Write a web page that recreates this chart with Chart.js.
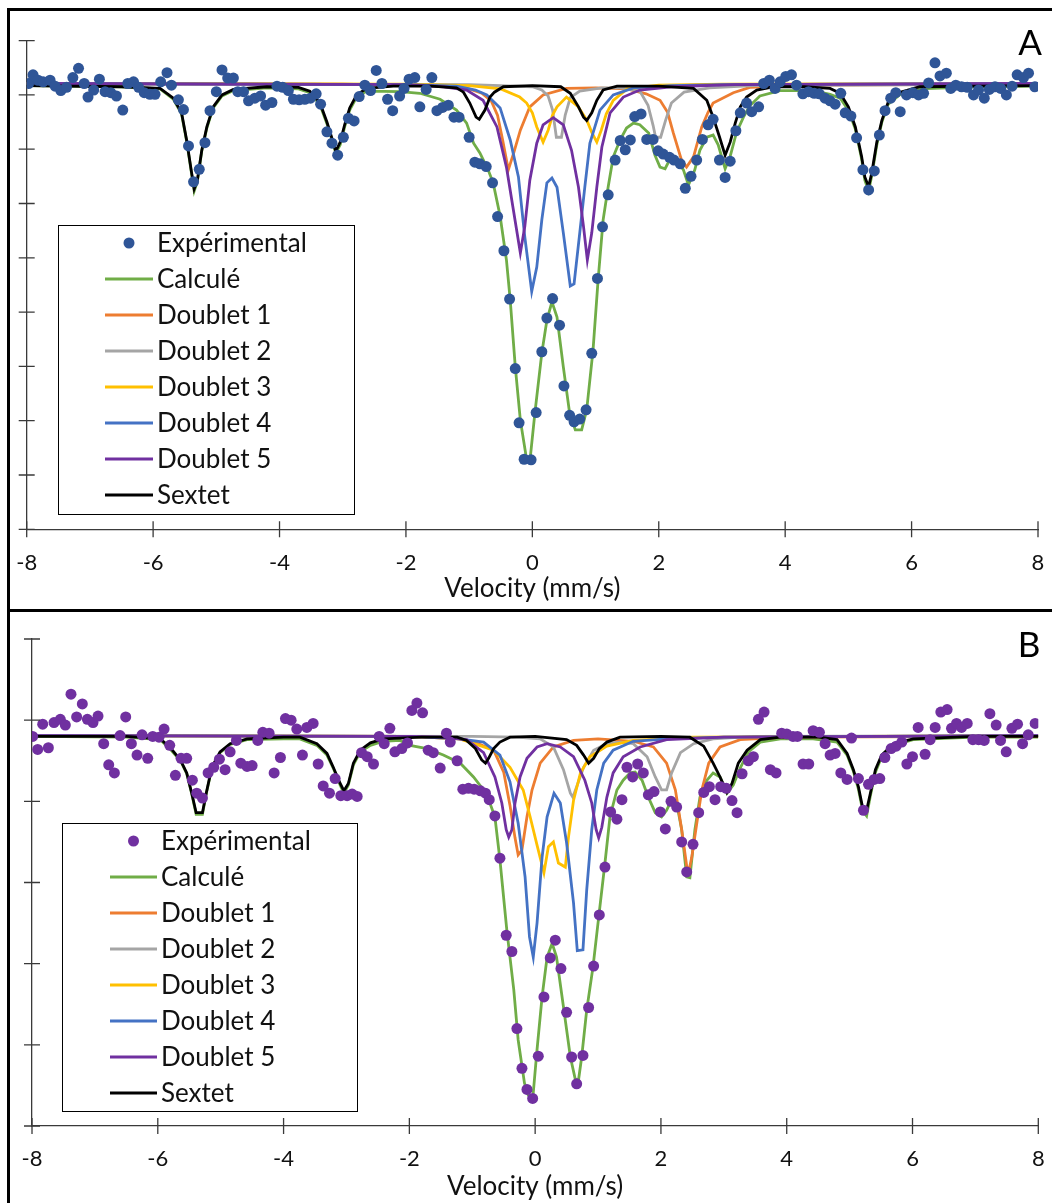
<!DOCTYPE html>
<html><head><meta charset="utf-8">
<script src="https://cdn.jsdelivr.net/npm/chart.js@4.4.1/dist/chart.umd.min.js"></script>
<style>
html,body{margin:0;padding:0;background:#fff;}
body{width:1052px;height:1203px;position:relative;overflow:hidden;}
.wrap{position:absolute;left:0;}
.bl{position:absolute;background:#000;z-index:5;}
</style></head>
<body>
<div class="wrap" style="top:0;width:1052px;height:608px;"><canvas id="ca" width="1052" height="608"></canvas></div>
<div class="wrap" style="top:612px;width:1052px;height:591px;"><canvas id="cb" width="1052" height="591"></canvas></div>
<div class="bl" style="left:7px;top:8px;width:3px;height:1195px;"></div>
<div class="bl" style="left:7px;top:8px;width:1045px;height:3px;"></div>
<div class="bl" style="left:7px;top:609px;width:1045px;height:3px;"></div>
<script>
// ---------- Panel A data ----------
const A_expX = [-7.97,-7.90,-7.82,-7.74,-7.63,-7.55,-7.46,-7.37,-7.27,-7.18,-7.09,-7.03,-6.94,-6.85,-6.76,-6.67,-6.58,-6.48,-6.40,-6.31,-6.23,-6.14,-6.05,-5.97,-5.88,-5.78,-5.71,-5.60,-5.52,-5.44,-5.36,-5.27,-5.18,-5.10,-5.00,-4.91,-4.82,-4.73,-4.66,-4.57,-4.49,-4.39,-4.30,-4.22,-4.12,-4.04,-3.95,-3.86,-3.78,-3.69,-3.60,-3.51,-3.42,-3.35,-3.25,-3.17,-3.08,-2.99,-2.91,-2.82,-2.74,-2.65,-2.56,-2.47,-2.38,-2.29,-2.21,-2.10,-2.03,-1.95,-1.86,-1.78,-1.68,-1.59,-1.51,-1.42,-1.33,-1.24,-1.16,-1.00,-0.91,-0.83,-0.73,-0.63,-0.55,-0.45,-0.36,-0.27,-0.21,-0.13,-0.02,0.06,0.15,0.23,0.32,0.43,0.50,0.59,0.66,0.75,0.85,0.94,1.03,1.11,1.20,1.31,1.39,1.47,1.55,1.62,1.72,1.81,1.91,1.99,2.07,2.17,2.24,2.34,2.42,2.51,2.60,2.69,2.78,2.86,2.96,3.05,3.13,3.22,3.29,3.39,3.47,3.58,3.66,3.75,3.84,3.92,4.01,4.10,4.18,4.28,4.37,4.46,4.54,4.63,4.71,4.79,4.88,4.95,5.04,5.13,5.23,5.32,5.41,5.49,5.58,5.67,5.75,5.82,5.92,6.02,6.11,6.19,6.27,6.37,6.45,6.55,6.62,6.70,6.79,6.88,6.98,7.06,7.15,7.23,7.32,7.41,7.50,7.59,7.67,7.77,7.85,7.95];
const A_expY = [8.21,8.37,8.27,8.24,8.27,8.16,8.08,8.14,8.32,8.49,8.21,7.96,8.09,8.29,8.06,8.04,7.98,7.72,8.21,8.24,8.14,8.04,8.01,8.01,8.24,8.41,8.18,7.91,7.73,7.06,6.40,6.63,7.12,7.71,8.06,8.46,8.31,8.31,8.06,8.06,7.89,7.94,7.98,7.81,7.86,8.16,8.14,8.08,7.92,7.91,7.92,7.94,8.02,7.83,7.32,7.11,6.89,7.22,7.57,7.52,7.97,8.18,8.08,8.45,8.21,7.92,7.71,7.98,8.12,8.29,8.32,7.78,8.10,8.32,7.71,7.77,7.81,7.59,7.59,7.22,6.76,6.73,6.68,6.38,5.76,5.13,4.24,2.96,1.96,1.29,1.28,2.15,3.27,3.89,4.25,3.76,2.64,2.10,1.98,2.03,2.20,3.24,4.62,5.57,6.16,6.80,7.16,6.99,7.17,7.60,7.65,7.18,7.18,6.97,6.91,6.85,6.80,6.73,6.28,6.50,6.80,7.18,7.45,7.55,6.80,6.48,6.78,7.34,7.67,7.85,7.69,7.78,8.21,8.27,8.12,8.24,8.34,8.37,8.18,8.02,8.06,8.03,8.02,7.94,7.89,7.83,8.03,7.67,7.61,7.21,6.62,6.25,6.60,7.26,7.71,7.94,8.04,7.69,8.00,8.04,8.00,8.03,8.22,8.59,8.35,8.40,8.12,8.18,8.15,8.14,8.00,8.09,7.94,8.10,8.15,8.12,8.00,8.16,8.37,8.32,8.40,8.15];

const A_calcX = [-8,-6.5,-5.89,-5.68,-5.55,-5.47,-5.39,-5.35,-5.30,-5.23,-5.15,-5.05,-4.91,-4.73,-4.2,-3.7,-3.52,-3.36,-3.25,-3.17,-3.11,-3.04,-2.97,-2.89,-2.78,-2.62,-2.09,-1.78,-1.46,-1.2,-1.04,-0.93,-0.83,-0.70,-0.62,-0.51,-0.41,-0.35,-0.27,-0.19,-0.09,-0.04,0.04,0.15,0.23,0.31,0.39,0.49,0.59,0.68,0.78,0.86,0.96,1.04,1.12,1.20,1.28,1.39,1.49,1.60,1.70,1.84,1.94,2.02,2.10,2.17,2.28,2.39,2.47,2.57,2.65,2.76,2.86,2.94,3.05,3.13,3.23,3.34,3.44,3.60,3.92,4.3,4.55,4.71,4.87,5.0,5.11,5.21,5.26,5.32,5.37,5.45,5.53,5.63,5.82,6.13,7,8];
const A_calcY = [8.17,8.15,8.11,7.92,7.65,7.15,6.54,6.23,6.40,6.97,7.39,7.76,7.98,8.08,8.13,8.11,8.04,7.82,7.47,7.17,6.93,7.08,7.41,7.72,7.96,8.07,8.06,8.03,7.92,7.72,7.48,7.11,6.93,6.62,6.38,5.77,4.96,4.22,2.99,2.01,1.28,1.24,2.14,3.25,3.85,4.19,3.91,2.99,2.14,1.83,1.83,2.20,3.30,4.59,5.70,6.31,6.86,7.17,7.39,7.48,7.45,7.30,6.89,6.67,6.64,6.80,6.80,6.62,6.34,6.62,6.98,7.22,7.26,7.08,6.64,6.87,7.31,7.59,7.80,7.98,8.08,8.08,8.05,8.01,7.94,7.72,7.37,6.82,6.43,6.23,6.51,7.08,7.50,7.83,8.01,8.11,8.15,8.16];

const A_d1X = [-8,-3,-1.5,-1.0,-0.8,-0.65,-0.55,-0.47,-0.38,-0.29,-0.19,-0.04,0.17,0.54,1.0,1.5,1.8,2.02,2.14,2.23,2.36,2.44,2.55,2.68,2.78,2.86,3.18,3.44,4.5,8];
const A_d1Y = [8.21,8.20,8.16,8.11,8.03,7.89,7.62,7.17,6.62,6.95,7.35,7.78,8.00,8.12,8.13,8.11,8.02,7.90,7.68,7.30,6.80,6.67,6.86,7.41,7.68,7.85,8.04,8.14,8.18,8.20];

const A_d2X = [-8,-1,0,0.15,0.25,0.32,0.38,0.46,0.52,0.6,0.75,1.1,1.4,1.7,1.83,1.91,1.95,2.03,2.11,2.2,2.4,2.8,3.5,8];
const A_d2Y = [8.21,8.19,8.15,8.09,7.98,7.72,7.22,7.22,7.63,7.95,8.07,8.13,8.13,8.07,7.81,7.44,7.22,7.22,7.54,7.85,8.05,8.13,8.17,8.20];

const A_d3X = [-8,-2,-1,-0.5,-0.2,-0.09,0.0,0.07,0.17,0.25,0.32,0.39,0.54,0.72,0.86,0.94,1.02,1.09,1.17,1.28,1.5,2.0,3,8];
const A_d3Y = [8.21,8.20,8.17,8.11,7.96,7.85,7.67,7.41,7.13,7.35,7.63,7.78,7.96,7.79,7.54,7.31,7.13,7.35,7.65,7.90,8.11,8.18,8.20,8.21];

const A_d4X = [-8,-2,-1.2,-0.9,-0.72,-0.51,-0.35,-0.22,-0.12,-0.01,0.07,0.15,0.23,0.31,0.39,0.49,0.60,0.66,0.75,0.83,0.91,1.07,1.28,1.6,2.2,3,8];
const A_d4Y = [8.21,8.19,8.16,8.09,8.00,7.76,7.17,6.49,5.39,4.38,4.83,5.70,6.38,6.47,6.30,5.46,4.48,4.52,5.46,6.30,7.11,7.72,8.00,8.13,8.17,8.19,8.21];

const A_d5X = [-8,-2,-1.4,-1.04,-0.78,-0.56,-0.41,-0.3,-0.19,-0.12,-0.04,0.07,0.17,0.33,0.49,0.62,0.73,0.81,0.87,0.94,1.02,1.1,1.23,1.44,1.7,2.2,3.2,8];
const A_d5Y = [8.21,8.19,8.15,8.09,7.90,7.41,6.67,5.88,5.09,5.57,6.43,7.11,7.45,7.58,7.45,6.98,6.30,5.57,4.96,5.46,6.30,7.04,7.67,7.96,8.09,8.15,8.19,8.21];

const A_sextX = [-8,-6.5,-5.89,-5.68,-5.55,-5.47,-5.39,-5.35,-5.30,-5.23,-5.15,-5.05,-4.91,-4.73,-4.2,-3.7,-3.52,-3.36,-3.25,-3.17,-3.11,-3.04,-2.97,-2.89,-2.78,-2.62,-2.2,-1.6,-1.2,-1.09,-0.99,-0.89,-0.84,-0.75,-0.67,-0.6,-0.46,0,0.45,0.6,0.73,0.81,0.86,0.94,1.02,1.12,1.34,2.0,2.55,2.76,2.86,2.96,3.05,3.13,3.21,3.29,3.39,3.55,3.81,4.3,4.71,4.87,5.0,5.11,5.21,5.26,5.32,5.37,5.45,5.53,5.63,5.82,6.13,7,8];
const A_sextY = [8.17,8.15,8.12,7.94,7.67,7.17,6.56,6.27,6.43,6.98,7.41,7.78,8.00,8.10,8.15,8.14,8.07,7.85,7.50,7.20,6.96,7.13,7.45,7.76,8.00,8.12,8.16,8.16,8.13,8.05,7.85,7.59,7.55,7.72,7.96,8.05,8.15,8.17,8.15,8.03,7.78,7.59,7.53,7.67,7.90,8.09,8.16,8.16,8.12,7.90,7.59,7.23,6.89,7.13,7.48,7.78,7.96,8.09,8.15,8.15,8.12,8.03,7.78,7.41,6.86,6.49,6.31,6.56,7.13,7.53,7.87,8.05,8.15,8.16,8.17];

// ---------- Panel B data ----------
const B_expX = [-7.99,-7.91,-7.83,-7.74,-7.65,-7.55,-7.47,-7.38,-7.29,-7.20,-7.12,-7.03,-6.95,-6.86,-6.78,-6.69,-6.60,-6.51,-6.42,-6.33,-6.25,-6.16,-6.08,-5.98,-5.90,-5.81,-5.72,-5.63,-5.54,-5.45,-5.38,-5.29,-5.20,-5.11,-5.02,-4.93,-4.85,-4.75,-4.68,-4.58,-4.50,-4.41,-4.33,-4.23,-4.15,-4.05,-3.97,-3.88,-3.79,-3.70,-3.63,-3.53,-3.45,-3.37,-3.27,-3.18,-3.09,-2.99,-2.91,-2.83,-2.76,-2.67,-2.57,-2.48,-2.40,-2.31,-2.23,-2.12,-2.03,-1.96,-1.88,-1.79,-1.70,-1.62,-1.51,-1.41,-1.35,-1.24,-1.15,-1.06,-0.97,-0.87,-0.79,-0.73,-0.64,-0.56,-0.46,-0.37,-0.29,-0.21,-0.13,-0.04,0.05,0.14,0.24,0.32,0.41,0.50,0.58,0.66,0.76,0.85,0.93,1.02,1.11,1.20,1.30,1.38,1.46,1.55,1.63,1.72,1.80,1.89,1.99,2.07,2.16,2.25,2.33,2.41,2.51,2.60,2.68,2.77,2.86,2.95,3.04,3.13,3.21,3.29,3.39,3.47,3.55,3.64,3.74,3.83,3.92,4.00,4.10,4.17,4.26,4.35,4.42,4.52,4.61,4.69,4.77,4.86,4.96,5.03,5.14,5.22,5.30,5.39,5.48,5.56,5.66,5.74,5.83,5.91,6.00,6.09,6.20,6.28,6.36,6.45,6.55,6.62,6.70,6.78,6.87,6.96,7.05,7.14,7.23,7.33,7.40,7.49,7.58,7.67,7.75,7.84,7.95];
const B_expY = [4.80,4.64,4.95,4.66,4.97,5.01,4.94,5.32,5.04,5.20,5.01,4.97,5.05,4.71,4.45,4.35,4.81,5.04,4.71,4.57,4.82,4.53,4.80,4.79,4.89,4.69,4.32,4.53,4.53,4.26,4.10,4.04,4.35,4.42,4.52,4.39,4.61,4.75,4.47,4.43,4.44,4.75,4.85,4.84,4.35,4.54,5.02,5.00,4.89,4.57,4.91,4.96,4.46,4.19,4.10,4.28,4.07,4.07,4.09,4.06,4.60,4.55,4.46,4.80,4.71,4.90,4.61,4.65,4.72,5.12,5.21,5.09,4.63,4.60,4.41,4.84,4.73,4.50,4.15,4.16,4.15,4.13,4.10,4.02,3.82,3.30,2.35,2.15,1.20,0.71,0.45,0.34,0.86,1.59,2.07,2.29,1.94,1.40,0.85,0.52,0.87,1.46,1.97,2.60,3.19,3.87,3.78,4.02,4.42,4.30,4.46,4.35,4.08,4.12,3.87,3.66,4.00,3.93,3.50,3.13,3.47,3.86,4.11,4.18,4.02,4.18,4.16,4.01,3.86,4.34,4.50,4.55,5.01,5.10,4.39,4.35,4.84,4.83,4.80,4.80,4.46,4.46,4.87,4.85,4.71,4.57,4.59,4.35,4.27,4.78,4.28,3.89,4.21,4.27,4.28,4.54,4.65,4.68,4.73,4.46,4.55,4.91,4.58,4.76,4.91,5.10,5.13,4.90,4.96,4.91,4.96,4.76,4.76,4.75,5.08,4.94,4.75,4.61,4.90,4.95,4.71,4.82,4.96];

const B_calcX = [-8,-6.5,-5.96,-5.80,-5.64,-5.54,-5.46,-5.39,-5.29,-5.23,-5.14,-5.01,-4.85,-4.58,-4.0,-3.74,-3.47,-3.31,-3.21,-3.10,-3.04,-2.97,-2.89,-2.78,-2.62,-2.41,-2.15,-1.99,-1.72,-1.46,-1.19,-0.98,-0.82,-0.72,-0.64,-0.56,-0.45,-0.34,-0.27,-0.17,-0.11,-0.04,0.03,0.11,0.19,0.27,0.34,0.45,0.56,0.64,0.69,0.74,0.82,0.92,1.01,1.11,1.19,1.30,1.40,1.51,1.59,1.70,1.80,1.91,2.01,2.09,2.17,2.25,2.33,2.41,2.46,2.54,2.62,2.73,2.83,2.94,3.05,3.15,3.26,3.39,3.58,3.90,4.42,4.80,4.96,5.06,5.14,5.21,5.27,5.33,5.41,5.51,5.70,6.01,7,8];
const B_calcY = [4.80,4.79,4.76,4.64,4.50,4.34,4.09,3.84,3.84,4.09,4.41,4.60,4.70,4.76,4.77,4.77,4.69,4.57,4.41,4.20,4.10,4.20,4.45,4.61,4.69,4.74,4.75,4.69,4.65,4.57,4.47,4.30,4.14,3.98,3.81,3.28,2.41,1.68,1.06,0.53,0.38,0.32,0.94,1.59,2.08,2.25,2.08,1.47,0.85,0.57,0.57,0.85,1.43,1.96,2.57,3.24,3.81,4.14,4.26,4.35,4.36,4.26,4.05,3.86,3.81,3.89,4.02,3.98,3.65,3.07,3.06,3.65,4.05,4.26,4.35,4.30,4.10,4.20,4.41,4.61,4.73,4.77,4.77,4.73,4.57,4.37,4.15,3.88,3.82,4.07,4.36,4.55,4.69,4.76,4.79,4.79];

const B_d1X = [-8,-2,-1.2,-0.9,-0.66,-0.50,-0.40,-0.32,-0.27,-0.21,-0.13,-0.05,0.08,0.29,0.61,1.0,1.56,1.88,2.09,2.23,2.33,2.41,2.44,2.49,2.57,2.65,2.76,2.94,3.26,4,8];
const B_d1Y = [4.81,4.80,4.77,4.71,4.63,4.36,3.95,3.55,3.34,3.40,3.81,4.14,4.47,4.67,4.75,4.77,4.74,4.67,4.47,4.14,3.65,3.20,3.13,3.31,3.73,4.14,4.47,4.67,4.76,4.79,4.80];

const B_d2X = [-8,-1,-0.3,0.08,0.29,0.45,0.56,0.60,0.66,0.77,0.93,1.14,1.35,1.56,1.78,1.91,2.01,2.09,2.17,2.31,2.52,2.83,3.5,8];
const B_d2Y = [4.81,4.80,4.79,4.77,4.67,4.39,4.10,4.05,4.18,4.42,4.63,4.71,4.73,4.71,4.55,4.30,4.14,4.14,4.35,4.60,4.71,4.77,4.80,4.81];

const B_d3X = [-8,-2,-1.2,-0.66,-0.40,-0.19,-0.08,0.03,0.14,0.21,0.29,0.37,0.48,0.53,0.61,0.72,0.87,1.14,1.56,2.5,8];
const B_d3Y = [4.81,4.80,4.77,4.63,4.42,4.14,3.81,3.46,3.12,3.44,3.50,3.24,3.19,3.56,4.01,4.35,4.55,4.68,4.75,4.79,4.81];

const B_d4X = [-8,-2,-1.2,-0.82,-0.56,-0.40,-0.27,-0.16,-0.09,-0.03,0.03,0.11,0.19,0.30,0.40,0.50,0.61,0.67,0.76,0.82,0.90,0.98,1.09,1.24,1.56,2.09,3,8];
const B_d4Y = [4.81,4.80,4.77,4.73,4.57,4.24,3.73,3.07,2.33,2.08,2.50,3.31,3.81,4.10,3.98,3.49,2.75,2.16,2.17,2.91,3.65,4.14,4.47,4.63,4.74,4.77,4.79,4.81];

const B_d5X = [-8,-2,-1.5,-1.09,-0.82,-0.64,-0.53,-0.46,-0.42,-0.37,-0.32,-0.24,-0.13,0.03,0.19,0.40,0.61,0.79,0.90,0.97,1.01,1.06,1.14,1.24,1.40,1.67,2.09,3,8];
const B_d5Y = [4.81,4.80,4.79,4.76,4.60,4.30,3.98,3.65,3.56,3.65,3.98,4.30,4.53,4.67,4.71,4.67,4.55,4.26,3.98,3.65,3.55,3.68,4.05,4.35,4.55,4.67,4.76,4.79,4.81];

const B_sextX = [-8,-6.5,-5.96,-5.80,-5.64,-5.54,-5.46,-5.39,-5.29,-5.23,-5.14,-5.01,-4.85,-4.58,-4.0,-3.74,-3.47,-3.31,-3.21,-3.10,-3.04,-2.97,-2.89,-2.78,-2.62,-2.41,-1.8,-1.24,-1.09,-0.95,-0.85,-0.79,-0.74,-0.66,-0.56,-0.40,0,0.50,0.66,0.77,0.85,0.93,1.02,1.14,1.35,2.0,2.46,2.68,2.83,2.94,3.05,3.13,3.23,3.37,3.58,3.90,4.5,4.80,4.96,5.06,5.14,5.21,5.27,5.33,5.41,5.51,5.70,6.01,7,8];
const B_sextY = [4.80,4.80,4.77,4.66,4.51,4.35,4.10,3.86,3.86,4.10,4.42,4.61,4.71,4.77,4.79,4.79,4.71,4.59,4.42,4.22,4.13,4.22,4.47,4.63,4.72,4.77,4.79,4.79,4.75,4.65,4.51,4.47,4.53,4.65,4.73,4.79,4.80,4.76,4.69,4.57,4.47,4.53,4.65,4.73,4.79,4.80,4.79,4.68,4.47,4.30,4.11,4.22,4.47,4.63,4.76,4.79,4.79,4.76,4.59,4.39,4.18,3.91,3.89,4.10,4.39,4.57,4.71,4.77,4.80,4.80];

const seriesLabels = ['Expérimental','Calculé','Doublet 1','Doublet 2','Doublet 3','Doublet 4','Doublet 5','Sextet'];
const xTickLabelsRange = [-8, 8];
const xAxisTitle = 'Velocity (mm/s)';

// ---------- helpers ----------
const FONT = 'Lato, "Open Sans", sans-serif';
function pts(xs, ys){ return xs.map((x,i)=>({x:x, y:ys[i]})); }
const lineColors = ['#70AD47','#ED7D31','#A5A5A5','#FFC000','#4472C4','#7030A0','#000000'];

function buildDatasets(exp, curves, dotColor){
  const ds = [{
    label: seriesLabels[0], data: exp, showLine:false, pointRadius:5.5, pointHoverRadius:5.5,
    backgroundColor: dotColor, borderColor: dotColor, pointBorderWidth:0, order:0
  }];
  const orders = [7,6,5,4,3,2,1];
  curves.forEach((c,i)=>{
    ds.push({label: seriesLabels[i+1], data: c, showLine:true, pointRadius:0, borderWidth:2.8,
      borderColor: lineColors[i], backgroundColor: lineColors[i], tension:0, fill:false, order: orders[i]});
  });
  return ds;
}

const crossTicks = {
  id:'crossTicks',
  afterDraw(chart){
    const ctx = chart.ctx, xs = chart.scales.x, ys = chart.scales.y, L = 8;
    ctx.save(); ctx.strokeStyle = '#3a3a3a'; ctx.lineWidth = 1.3;
    ctx.beginPath();
    const ax = chart.chartArea.left, ay = chart.chartArea.bottom;
    xs.ticks.forEach(t=>{ const p = xs.getPixelForValue(t.value); ctx.moveTo(p, ay-L); ctx.lineTo(p, ay+L); });
    ys.ticks.forEach(t=>{ const p = ys.getPixelForValue(t.value); ctx.moveTo(ax-L, p); ctx.lineTo(ax+L, p); });
    ctx.stroke(); ctx.restore();
  }
};

const boxLegend = {
  id:'boxLegend',
  afterDraw(chart, args, o){
    const ctx = chart.ctx;
    ctx.save();
    ctx.fillStyle = '#fff'; ctx.fillRect(o.x, o.y, o.w, o.h);
    ctx.strokeStyle = '#000'; ctx.lineWidth = 1; ctx.strokeRect(o.x+0.5, o.y+0.5, o.w, o.h);
    ctx.font = o.font; ctx.textBaseline = 'middle'; ctx.textAlign = 'left';
    chart.data.datasets.forEach((ds,i)=>{
      const cy = o.y + o.first + i*o.step;
      if (ds.showLine === false){
        ctx.beginPath(); ctx.arc(o.symX + o.symW/2, cy, ds.pointRadius, 0, Math.PI*2);
        ctx.fillStyle = ds.backgroundColor; ctx.fill();
      } else {
        ctx.beginPath(); ctx.moveTo(o.symX, cy); ctx.lineTo(o.symX + o.symW, cy);
        ctx.strokeStyle = ds.borderColor; ctx.lineWidth = ds.borderWidth; ctx.stroke();
      }
      ctx.fillStyle = '#111'; ctx.fillText(ds.label, o.textX, cy + 1);
    });
    ctx.font = o.tagFont; ctx.textAlign = 'center'; ctx.textBaseline = 'alphabetic'; ctx.fillStyle = '#000';
    ctx.fillText(o.tag, o.tagX, o.tagY);
    ctx.restore();
  }
};

function makeChart(id, datasets, cfg){
  const options = {
      responsive:false, animation:false, events:[],
      layout:{ padding:{ left:0, right:cfg.padRight, top:cfg.area.top, bottom:0 } },
      plugins:{ legend:{display:false}, tooltip:{enabled:false}, boxLegend: cfg.legend },
      scales:{
        x:{ type:'linear', min:xTickLabelsRange[0], max:xTickLabelsRange[1],
            afterFit(s){ s.height = cfg.xHeight; },
            grid:{ display:false, drawTicks:true, tickLength:cfg.tickPad },
            border:{ display:true, color:'#3a3a3a', width:1.3 },
            ticks:{ stepSize:2, color:'#111', padding:0, maxRotation:0, autoSkip:false,
                    font:{ family:FONT, size:22 } },
            title:{ display:true, text:xAxisTitle, color:'#111', padding:{ top:0, bottom:cfg.titlePad },
                    font:{ family:FONT, size:26 } } },
        y:{ type:'linear', min:0, max:cfg.yMax,
            afterFit(s){ s.width = cfg.yWidth; },
            grid:{ display:false, drawTicks:false },
            border:{ display:true, color:'#3a3a3a', width:1.3 },
            ticks:{ display:false, stepSize:1, padding:0 } }
      }
  };
  const chart = new Chart(document.getElementById(id), {
    type:'scatter', data:{ datasets: datasets }, options: options, plugins:[crossTicks, boxLegend]
  });
  // calibrate the plot area to the reference frame
  for (let k = 0; k < 6; k++){
    const ca = chart.chartArea, t = cfg.area, p = options.layout.padding;
    const dl = ca.left - t.left, dr = t.right - ca.right, dt = ca.top - t.top, db = ca.bottom - t.bottom;
    if (Math.abs(dl) < 0.2 && Math.abs(dr) < 0.2 && Math.abs(dt) < 0.2 && Math.abs(db) < 0.2) break;
    cfg.yWidth -= dl;
    p.right -= dr;
    p.top -= dt;
    cfg.xHeight += db;
    chart.options.layout.padding = { left:0, right:p.right, top:p.top, bottom:0 };
    chart.update();
  }
  return chart;
}

const dsA = buildDatasets(pts(A_expX, A_expY), [
  pts(A_calcX, A_calcY), pts(A_d1X, A_d1Y), pts(A_d2X, A_d2Y), pts(A_d3X, A_d3Y),
  pts(A_d4X, A_d4Y), pts(A_d5X, A_d5Y), pts(A_sextX, A_sextY)], '#2F5597');
const dsB = buildDatasets(pts(B_expX, B_expY), [
  pts(B_calcX, B_calcY), pts(B_d1X, B_d1Y), pts(B_d2X, B_d2Y), pts(B_d3X, B_d3Y),
  pts(B_d4X, B_d4Y), pts(B_d5X, B_d5Y), pts(B_sextX, B_sextY)], '#7030A0');

makeChart('ca', dsA, { padRight:14, xHeight:78.7, yWidth:26.7, yMax:9, tickPad:20, titlePad:3.4,
  area:{ left:26.7, right:1038, top:40.6, bottom:529.3 },
  legend:{ x:58, y:225, w:296, h:289, first:18, step:36, symX:105, symW:48, textX:157,
           font:'26px '+FONT, tag:'A', tagX:1030, tagY:55, tagFont:'35px '+FONT } });
makeChart('cb', dsB, { padRight:13.7, xHeight:77, yWidth:32, yMax:6, tickPad:20, titlePad:0.4,
  area:{ left:32, right:1038.3, top:27, bottom:514 },
  legend:{ x:62, y:211, w:295, h:288, first:18, step:36, symX:110, symW:47, textX:161,
           font:'26px '+FONT, tag:'B', tagX:1029, tagY:45, tagFont:'35px '+FONT } });
</script>
</body></html>
